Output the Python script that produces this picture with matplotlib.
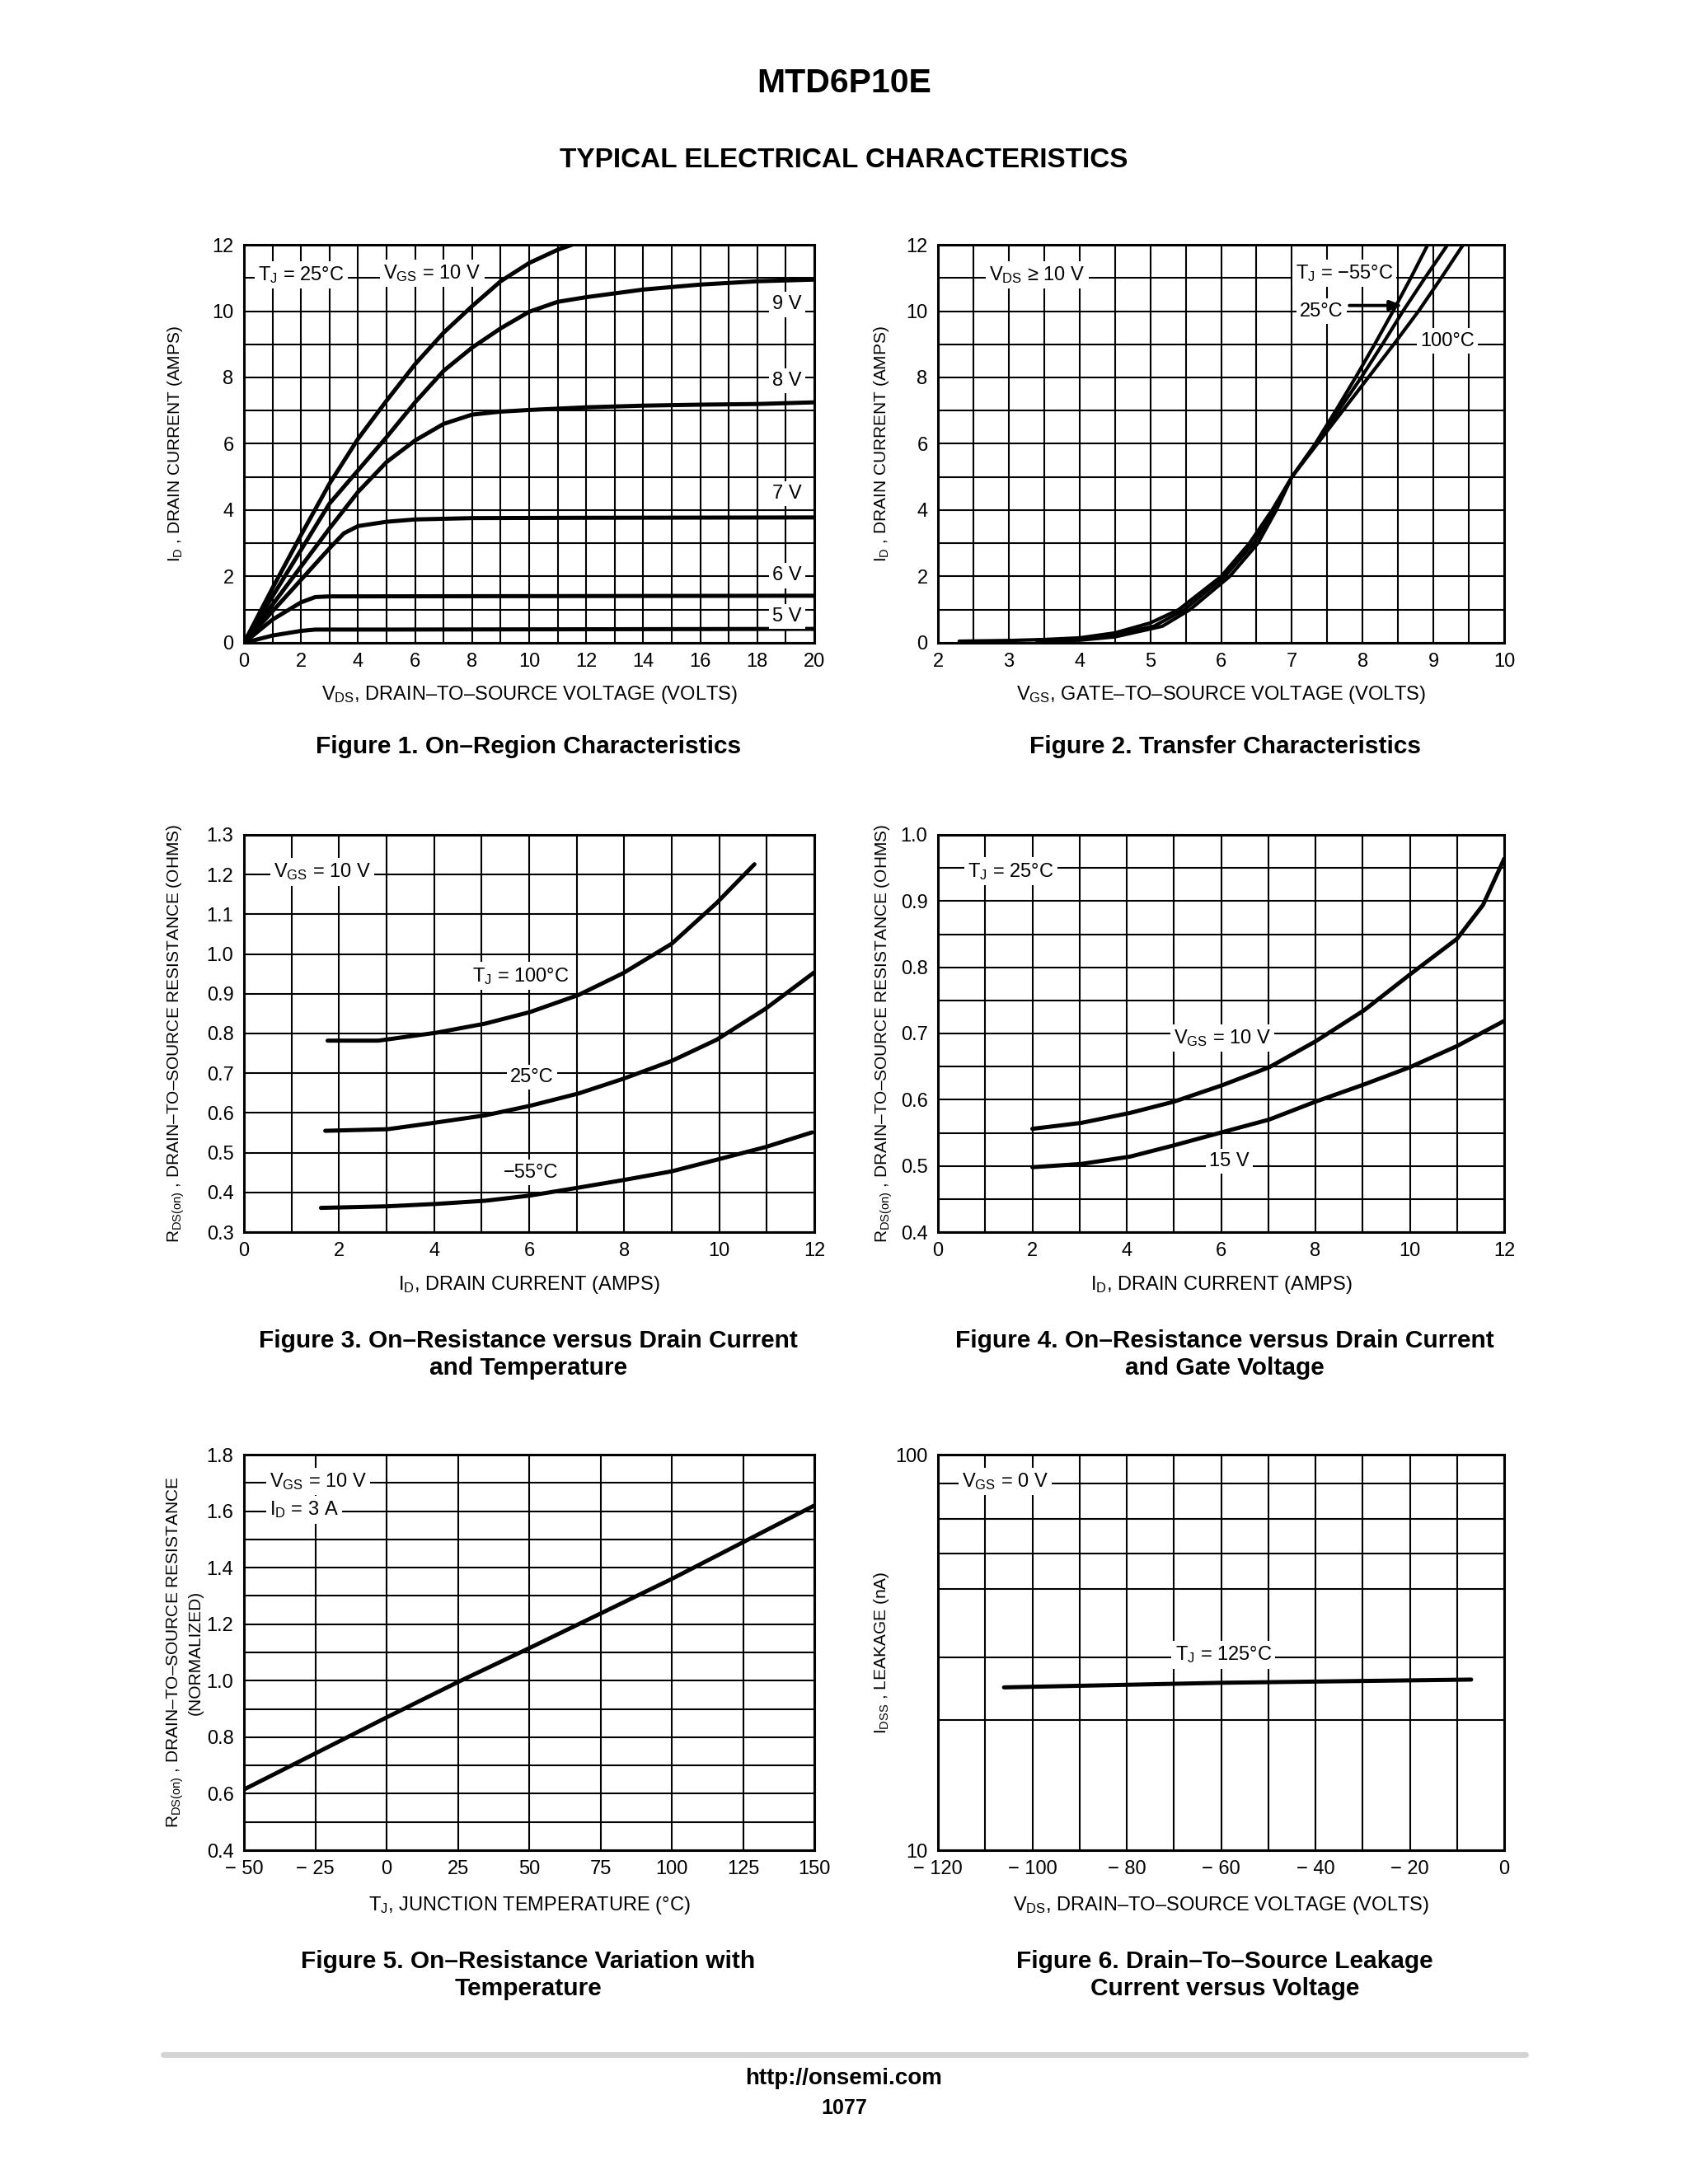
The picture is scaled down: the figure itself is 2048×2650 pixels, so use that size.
"""
MTD6P10E - typical electrical characteristics page
"""
import matplotlib.pyplot as plt
from matplotlib.ticker import FixedLocator, NullFormatter

# Figure 1. On-region characteristics, I_D vs V_DS (T_J = 25 C)
F1_VDS_10V = [0, 1, 2, 3, 4, 5, 6, 7, 8, 9, 10, 11, 11.5]
F1_ID_10V = [0, 1.65, 3.25, 4.8, 6.15, 7.3, 8.4, 9.35, 10.15, 10.9, 11.45, 11.85, 12.0]
F1_VDS_9V = [0, 1, 2, 3, 4, 5, 6, 7, 8, 9, 10, 11, 12, 14, 16, 18, 20]
F1_ID_9V = [0, 1.4, 2.8, 4.2, 5.2, 6.2, 7.25, 8.2, 8.9, 9.48, 9.98, 10.28, 10.42, 10.65, 10.8, 10.9, 10.95]
F1_VDS_8V = [0, 1, 2, 3, 4, 5, 6, 7, 8, 9, 10, 12, 14, 16, 18, 20]
F1_ID_8V = [0, 1.15, 2.3, 3.45, 4.55, 5.45, 6.1, 6.6, 6.88, 6.97, 7.02, 7.1, 7.15, 7.18, 7.2, 7.25]
F1_VDS_7V = [0, 1, 2, 3, 3.5, 4, 5, 6, 8, 12, 20]
F1_ID_7V = [0, 0.95, 1.9, 2.85, 3.3, 3.52, 3.65, 3.72, 3.76, 3.77, 3.78]
F1_VDS_6V = [0, 1, 2, 2.5, 3, 20]
F1_ID_6V = [0, 0.7, 1.22, 1.38, 1.4, 1.42]
F1_VDS_5V = [0, 1, 2, 2.5, 5, 20]
F1_ID_5V = [0, 0.22, 0.36, 0.4, 0.4, 0.42]

# Figure 2. Transfer characteristics, I_D vs V_GS
F2_VGS_100C = [2.3, 3.0, 3.5, 4.0, 4.5, 5.0, 5.4, 6.0, 6.4, 6.72, 7.0, 7.36, 7.72, 8.08, 8.44, 8.79, 9.11, 9.42]
F2_ID_100C = [0.05, 0.07, 0.1, 0.15, 0.3, 0.6, 1.0, 2.0, 3.0, 4.0, 5.0, 6.0, 7.0, 8.0, 9.0, 10.0, 11.0, 12.0]
F2_VGS_25C = [3.4, 4.0, 4.5, 5.05, 5.48, 6.05, 6.46, 6.75, 7.0, 7.34, 7.66, 7.98, 8.28, 8.57, 8.88, 9.2]
F2_ID_25C = [0.08, 0.12, 0.25, 0.5, 1.0, 2.0, 3.0, 4.0, 5.0, 6.0, 7.0, 8.0, 9.0, 10.0, 11.0, 12.0]
F2_VGS_M55C = [3.4, 4.0, 4.5, 5.17, 5.56, 6.12, 6.52, 6.78, 7.0, 7.33, 7.62, 7.9, 8.17, 8.43, 8.68, 8.92]
F2_ID_M55C = [0.06, 0.08, 0.18, 0.5, 1.0, 2.0, 3.0, 4.0, 5.0, 6.0, 7.0, 8.0, 9.0, 10.0, 11.0, 12.0]

# Figure 3. R_DS(on) vs I_D for three temperatures
F3_ID_100C = [1.76, 2.83, 4.05, 5.08, 6.02, 7.04, 7.98, 9.0, 9.94, 10.74]
F3_R_100C = [0.782, 0.782, 0.802, 0.825, 0.854, 0.897, 0.952, 1.026, 1.128, 1.226]
F3_ID_25C = [1.71, 3.02, 4.05, 5.08, 6.02, 7.04, 7.98, 9.0, 9.94, 10.97, 12.0]
F3_R_25C = [0.555, 0.559, 0.576, 0.594, 0.618, 0.649, 0.686, 0.731, 0.784, 0.862, 0.954]
F3_ID_M55C = [1.62, 3.02, 4.05, 5.08, 6.02, 7.04, 7.98, 9.0, 9.94, 10.97, 11.95]
F3_R_M55C = [0.361, 0.365, 0.371, 0.379, 0.392, 0.412, 0.431, 0.453, 0.482, 0.514, 0.551]

# Figure 4. R_DS(on) vs I_D for two gate voltages
F4_ID_10V = [2.0, 3.04, 4.07, 5.0, 6.03, 7.02, 8.0, 9.03, 10.0, 11.0, 11.55, 12.0]
F4_R_10V = [0.556, 0.565, 0.580, 0.597, 0.622, 0.649, 0.688, 0.735, 0.789, 0.843, 0.894, 0.964]
F4_ID_15V = [2.0, 3.04, 4.07, 5.0, 6.03, 7.02, 8.0, 9.03, 10.0, 11.0, 12.0]
F4_R_15V = [0.498, 0.503, 0.514, 0.531, 0.551, 0.570, 0.597, 0.623, 0.649, 0.681, 0.719]

# Figure 5. normalized R_DS(on) vs T_J
F5_TJ = [-50, 0, 25, 50, 100, 150]
F5_RNORM = [0.615, 0.87, 0.995, 1.115, 1.36, 1.62]

# Figure 6. I_DSS leakage vs V_DS
F6_VDS = [-106, -60, -7]
F6_IDSS = [25.8, 26.5, 27.0]
F6_YGRID = [21.3, 30.7, 45.8, 56.2, 68.8, 84.5]

NARROW = ['Liberation Sans Narrow', 'Liberation Sans', 'DejaVu Sans']
REGULAR = ['Liberation Sans', 'DejaVu Sans']

plt.rcParams['font.family'] = NARROW
plt.rcParams['mathtext.fontset'] = 'custom'
plt.rcParams['mathtext.rm'] = 'Liberation Sans'
plt.rcParams['mathtext.it'] = 'Liberation Sans:italic'
plt.rcParams['mathtext.bf'] = 'Liberation Sans:bold'

CURVE_LW = 3.6
GRID_LW = 1.5
SPINE_LW = 2.2
TICK_FS = 17
ANNOT_FS = 17
XLABEL_FS = 17
YLABEL_FS = 15
CAPTION_FS = 21.5

COL1 = (296 / 2048, 692 / 2048)
COL2 = (1138 / 2048, 687 / 2048)
ROW1 = (1 - 780 / 2650, 483 / 2650)
ROW2 = (1 - 1495 / 2650, 482 / 2650)
ROW3 = (1 - 2245 / 2650, 480 / 2650)


def make_axes(fig, col, row):
    return fig.add_axes([col[0], row[0], col[1], row[1]])


def setup_grid(ax, xlim, ylim, xticks, xlabels, xgrid, yticks, ylabels, ygrid):
    ax.set_xlim(*xlim)
    ax.set_ylim(*ylim)
    ax.xaxis.set_major_locator(FixedLocator(xticks))
    ax.set_xticklabels(xlabels)
    ax.xaxis.set_minor_locator(FixedLocator(xgrid))
    ax.yaxis.set_major_locator(FixedLocator(yticks))
    ax.set_yticklabels(ylabels)
    ax.yaxis.set_minor_locator(FixedLocator(ygrid))
    ax.xaxis.set_minor_formatter(NullFormatter())
    ax.yaxis.set_minor_formatter(NullFormatter())
    ax.grid(which='both', color='black', lw=GRID_LW)
    ax.set_axisbelow(True)
    ax.tick_params(which='both', length=0, labelsize=TICK_FS, pad=9)
    for s in ax.spines.values():
        s.set_linewidth(SPINE_LW)


def set_labels(ax, xlabel, ylabel, xpos, ypos):
    ax.set_xlabel(xlabel, fontsize=XLABEL_FS, va='center')
    ax.xaxis.set_label_coords(0.5, xpos)
    ax.set_ylabel(ylabel, fontsize=YLABEL_FS, va='center', family=REGULAR)
    ax.yaxis.set_label_coords(ypos, 0.5)


def tag(ax, x, y, s, ha='center'):
    ax.text(x, y, s, fontsize=ANNOT_FS, ha=ha, va='center', zorder=5,
            bbox=dict(facecolor='white', edgecolor='none', pad=3))


def fmt(vals, nd=0):
    out = []
    for v in vals:
        s = f"{abs(v):.{nd}f}"
        out.append(("− " + s) if v < 0 else s)
    return out


def figure1(ax):
    for v, i in [(F1_VDS_10V, F1_ID_10V), (F1_VDS_9V, F1_ID_9V), (F1_VDS_8V, F1_ID_8V),
                 (F1_VDS_7V, F1_ID_7V), (F1_VDS_6V, F1_ID_6V), (F1_VDS_5V, F1_ID_5V)]:
        ax.plot(v, i, color='black', lw=CURVE_LW, solid_capstyle='round', solid_joinstyle='round')
    xt = list(range(0, 21, 2))
    yt = list(range(0, 13, 2))
    setup_grid(ax, (0, 20), (0, 12), xt, fmt(xt), list(range(21)), yt, fmt(yt), list(range(13)))
    set_labels(ax, "V$_{\\mathrm{DS}}$, DRAIN–TO–SOURCE VOLTAGE (VOLTS)",
               "I$_{\\mathrm{D}}$ , DRAIN CURRENT (AMPS)", -0.13, -0.12)
    tag(ax, 2.0, 11.1, "T$_{\\mathrm{J}}$ = 25°C")
    tag(ax, 6.6, 11.15, "V$_{\\mathrm{GS}}$ = 10 V")
    tag(ax, 19.05, 10.2, "9 V")
    tag(ax, 19.05, 7.9, "8 V")
    tag(ax, 19.05, 4.5, "7 V")
    tag(ax, 19.05, 2.03, "6 V")
    tag(ax, 19.05, 0.8, "5 V")


def figure2(ax):
    for v, i in [(F2_VGS_100C, F2_ID_100C), (F2_VGS_25C, F2_ID_25C), (F2_VGS_M55C, F2_ID_M55C)]:
        ax.plot(v, i, color='black', lw=3.0, solid_capstyle='round', solid_joinstyle='round')
    xt = list(range(2, 11))
    yt = list(range(0, 13, 2))
    xg = [2 + 0.5 * k for k in range(17)]
    setup_grid(ax, (2, 10), (0, 12), xt, fmt(xt), xg, yt, fmt(yt), list(range(13)))
    set_labels(ax, "V$_{\\mathrm{GS}}$, GATE–TO–SOURCE VOLTAGE (VOLTS)",
               "I$_{\\mathrm{D}}$ , DRAIN CURRENT (AMPS)", -0.13, -0.1)
    tag(ax, 3.4, 11.1, "V$_{\\mathrm{DS}}$ ≥ 10 V")
    tag(ax, 7.74, 11.15, "T$_{\\mathrm{J}}$ = −55°C")
    tag(ax, 7.42, 10.0, "25°C")
    tag(ax, 9.2, 9.1, "100°C")
    ax.annotate("", xy=(8.6, 10.17), xytext=(7.78, 10.17),
                arrowprops=dict(arrowstyle='-|>,head_length=0.9,head_width=0.35',
                                color='black', lw=2.8), zorder=6)


def figure3(ax):
    for i, r in [(F3_ID_100C, F3_R_100C), (F3_ID_25C, F3_R_25C), (F3_ID_M55C, F3_R_M55C)]:
        ax.plot(i, r, color='black', lw=CURVE_LW, solid_capstyle='round', solid_joinstyle='round')
    xt = list(range(0, 13, 2))
    yt = [round(0.3 + 0.1 * k, 1) for k in range(11)]
    setup_grid(ax, (0, 12), (0.3, 1.3), xt, fmt(xt), list(range(13)), yt, fmt(yt, 1), yt)
    set_labels(ax, "I$_{\\mathrm{D}}$, DRAIN CURRENT (AMPS)",
               "R$_{\\mathrm{DS(on)}}$ , DRAIN–TO–SOURCE RESISTANCE (OHMS)", -0.133, -0.12)
    tag(ax, 1.65, 1.207, "V$_{\\mathrm{GS}}$ = 10 V")
    tag(ax, 5.83, 0.945, "T$_{\\mathrm{J}}$ = 100°C")
    tag(ax, 6.06, 0.69, "25°C")
    tag(ax, 6.03, 0.45, "−55°C")


def figure4(ax):
    for i, r in [(F4_ID_10V, F4_R_10V), (F4_ID_15V, F4_R_15V)]:
        ax.plot(i, r, color='black', lw=CURVE_LW, solid_capstyle='round', solid_joinstyle='round')
    xt = list(range(0, 13, 2))
    yt = [round(0.4 + 0.1 * k, 1) for k in range(7)]
    yg = [round(0.4 + 0.05 * k, 2) for k in range(13)]
    setup_grid(ax, (0, 12), (0.4, 1.0), xt, fmt(xt), list(range(13)), yt, fmt(yt, 1), yg)
    set_labels(ax, "I$_{\\mathrm{D}}$, DRAIN CURRENT (AMPS)",
               "R$_{\\mathrm{DS(on)}}$ , DRAIN–TO–SOURCE RESISTANCE (OHMS)", -0.133, -0.095)
    tag(ax, 1.54, 0.945, "T$_{\\mathrm{J}}$ = 25°C")
    tag(ax, 6.03, 0.693, "V$_{\\mathrm{GS}}$ = 10 V")
    tag(ax, 6.17, 0.507, "15 V")


def figure5(ax):
    ax.plot(F5_TJ, F5_RNORM, color='black', lw=CURVE_LW, solid_capstyle='round')
    xt = list(range(-50, 151, 25))
    yt = [round(0.4 + 0.2 * k, 1) for k in range(8)]
    yg = [round(0.4 + 0.1 * k, 1) for k in range(15)]
    setup_grid(ax, (-50, 150), (0.4, 1.8), xt, fmt(xt), xt, yt, fmt(yt, 1), yg)
    set_labels(ax, "T$_{\\mathrm{J}}$, JUNCTION TEMPERATURE (°C)",
               "R$_{\\mathrm{DS(on)}}$ , DRAIN–TO–SOURCE RESISTANCE\n(NORMALIZED)",
               -0.14, -0.105)
    tag(ax, -41, 1.705, "V$_{\\mathrm{GS}}$ = 10 V", ha='left')
    tag(ax, -41, 1.605, "I$_{\\mathrm{D}}$ = 3 A", ha='left')


def figure6(ax):
    ax.plot(F6_VDS, F6_IDSS, color='black', lw=CURVE_LW, solid_capstyle='round')
    ax.set_yscale('log')
    xt = list(range(-120, 1, 20))
    xg = list(range(-120, 1, 10))
    setup_grid(ax, (-120, 0), (10, 100), xt, fmt(xt), xg, [10, 100], ["10", "100"], F6_YGRID)
    set_labels(ax, "V$_{\\mathrm{DS}}$, DRAIN–TO–SOURCE VOLTAGE (VOLTS)",
               "I$_{\\mathrm{DSS}}$ , LEAKAGE (nA)", -0.14, -0.1)
    tag(ax, -105.8, 85.5, "V$_{\\mathrm{GS}}$ = 0 V")
    tag(ax, -59.5, 31.2, "T$_{\\mathrm{J}}$ = 125°C")


def main():
    fig = plt.figure(figsize=(20.48, 26.5), dpi=100)
    fig.patch.set_facecolor('white')

    fig.text(0.5, 0.9617, "MTD6P10E", ha='center', va='center',
             fontsize=29.5, fontweight='bold', family=REGULAR)
    fig.text(0.5, 0.9265, "TYPICAL ELECTRICAL CHARACTERISTICS", ha='center', va='center',
             fontsize=24, fontweight='bold', family=REGULAR)

    figure1(make_axes(fig, COL1, ROW1))
    figure2(make_axes(fig, COL2, ROW1))
    figure3(make_axes(fig, COL1, ROW2))
    figure4(make_axes(fig, COL2, ROW2))
    figure5(make_axes(fig, COL1, ROW3))
    figure6(make_axes(fig, COL2, ROW3))

    captions = [
        (0.313, 0.6583, "Figure 1. On–Region Characteristics"),
        (0.7256, 0.6583, "Figure 2. Transfer Characteristics"),
        (0.313, 0.3798, "Figure 3. On–Resistance versus Drain Current\nand Temperature"),
        (0.7256, 0.3798, "Figure 4. On–Resistance versus Drain Current\nand Gate Voltage"),
        (0.313, 0.0956, "Figure 5. On–Resistance Variation with\nTemperature"),
        (0.7256, 0.0956, "Figure 6. Drain–To–Source Leakage\nCurrent versus Voltage"),
    ]
    for x, y, s in captions:
        fig.text(x, y, s, ha='center', va='center', multialignment='center',
                 fontsize=CAPTION_FS, fontweight='bold', family=REGULAR, linespacing=1.25)

    fig.add_artist(plt.Line2D([0.0967, 0.904], [0.0592, 0.0592], transform=fig.transFigure,
                              color='#d4d4d4', lw=5, solid_capstyle='round'))
    fig.text(0.5, 0.0483, "http://onsemi.com", ha='center', va='center',
             fontsize=20, fontweight='bold', family=NARROW)
    fig.text(0.5, 0.0349, "1077", ha='center', va='center',
             fontsize=18, fontweight='bold', family=NARROW)

    fig.savefig("out.png", dpi=100, facecolor='white')
    plt.close(fig)


if __name__ == "__main__":
    main()
